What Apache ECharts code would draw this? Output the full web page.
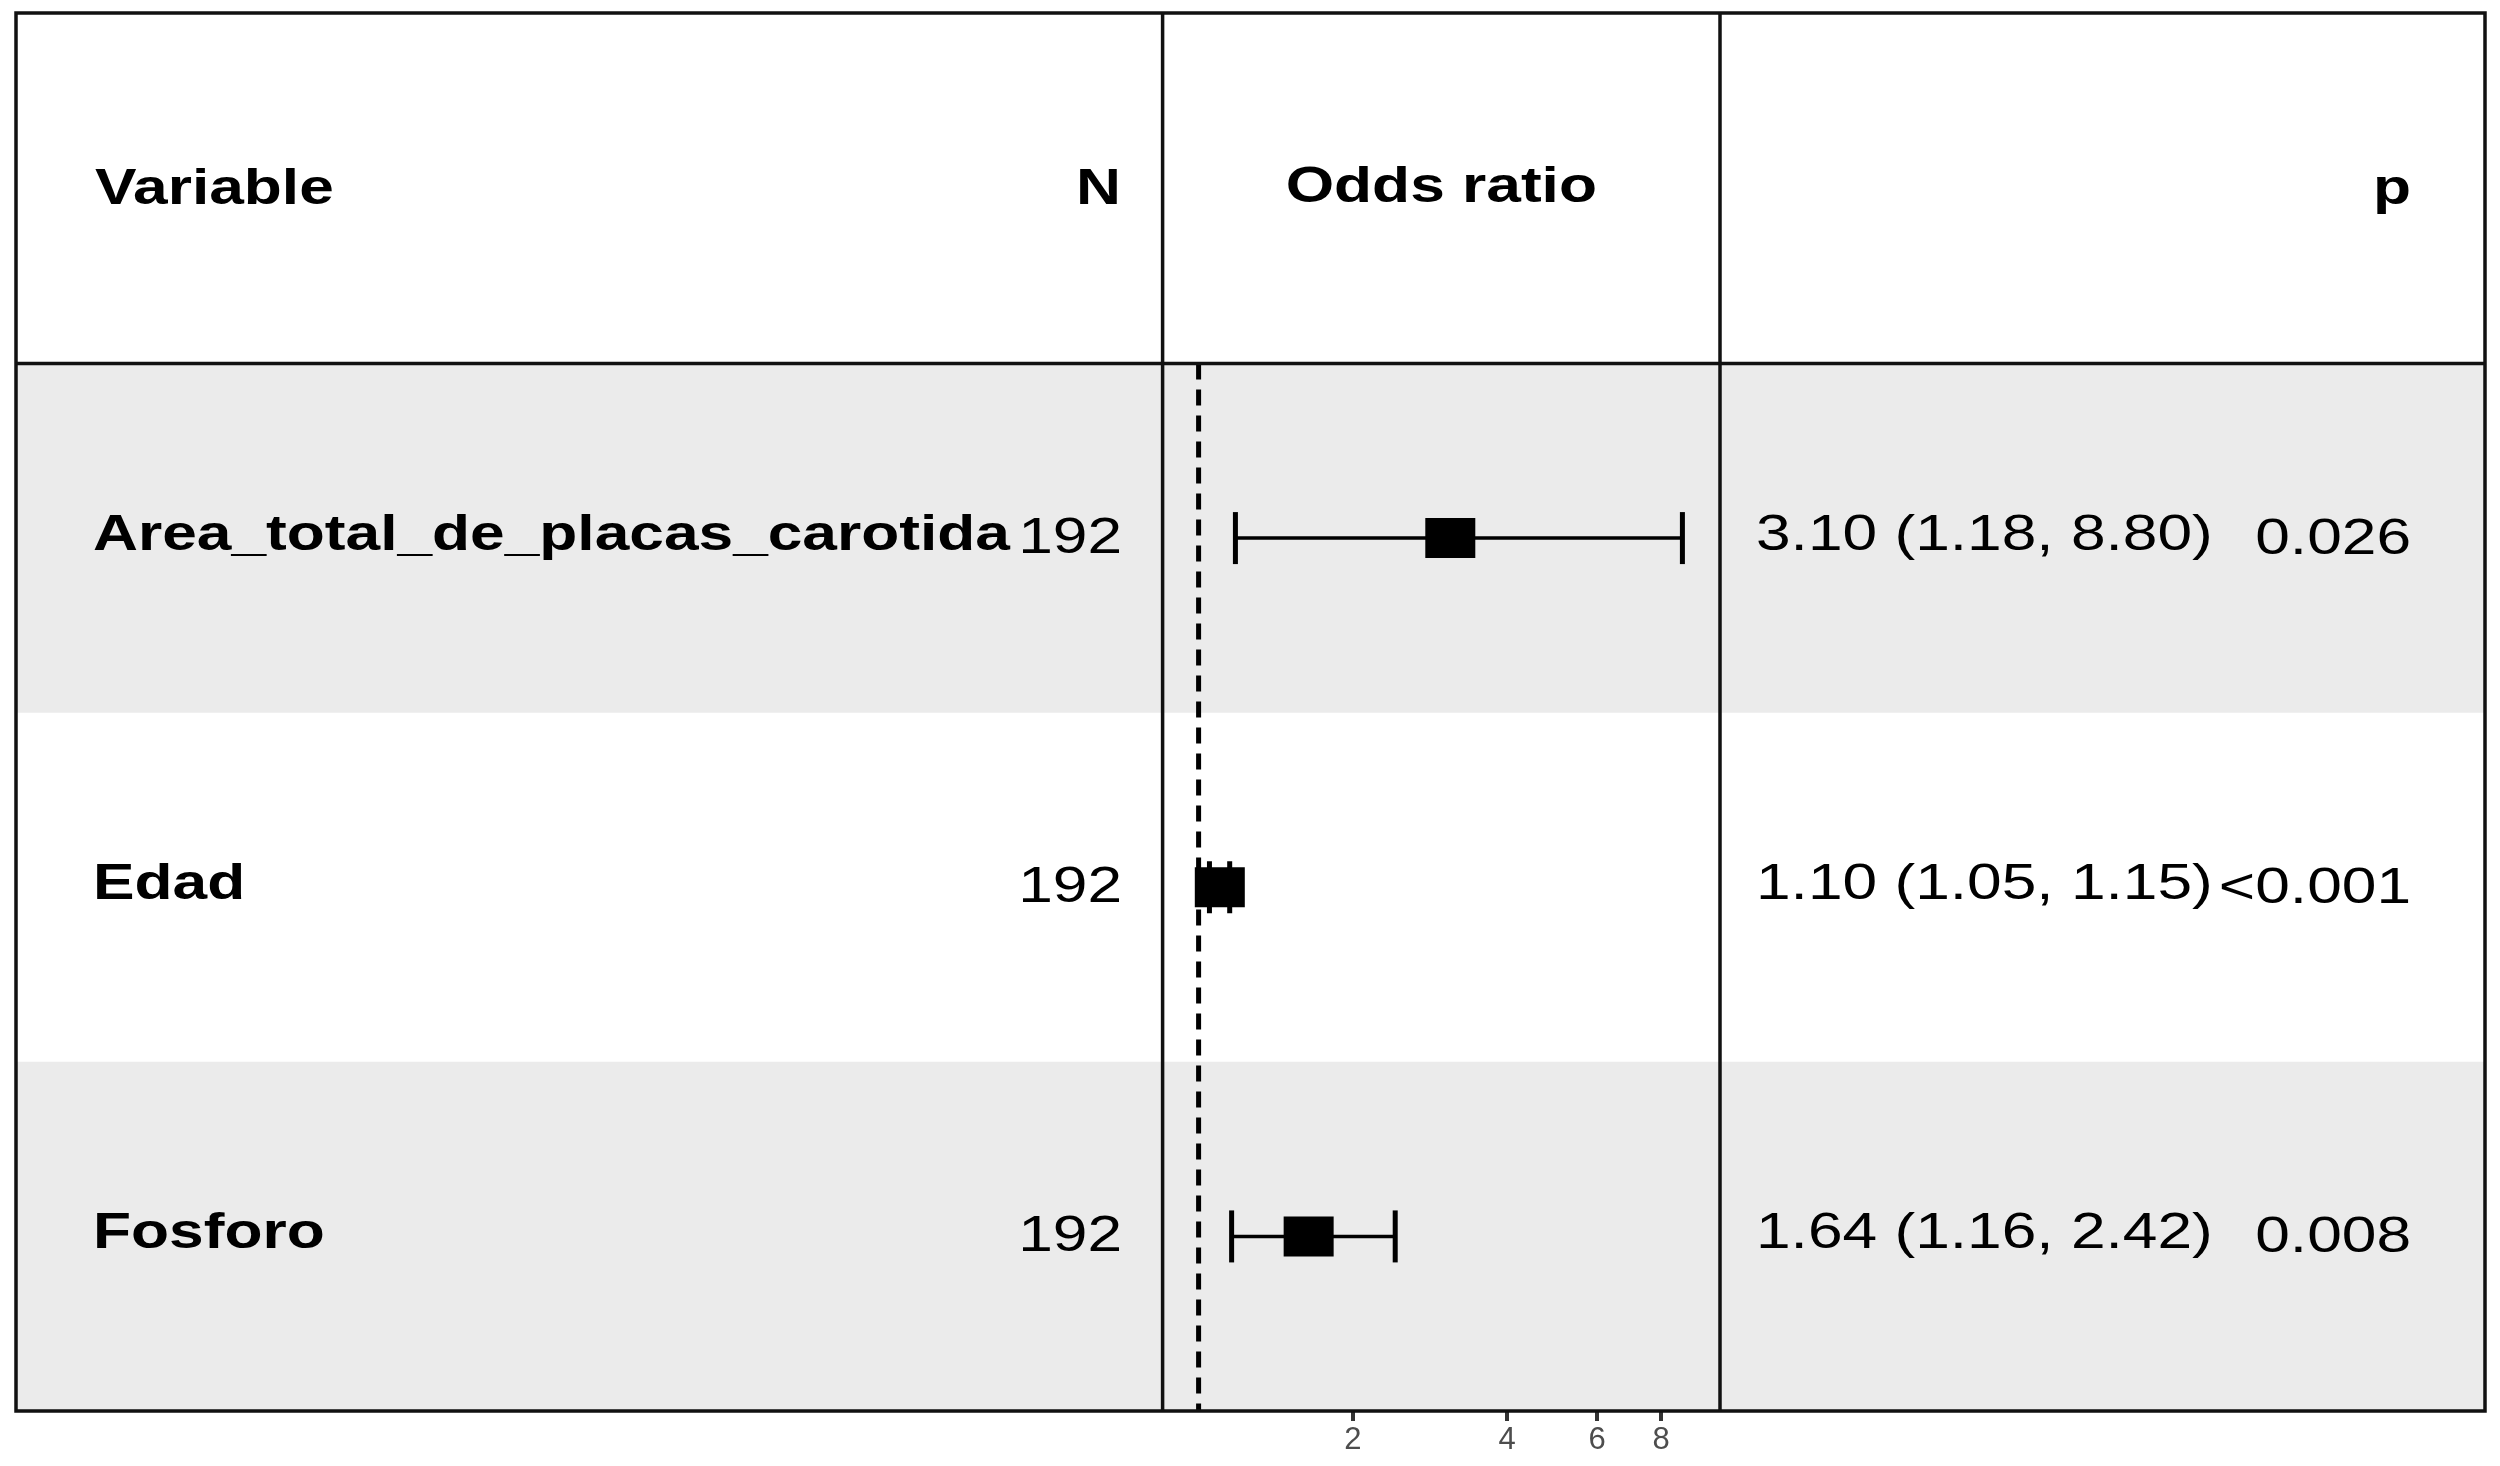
<!DOCTYPE html>
<html>
<head>
<meta charset="utf-8">
<script src="https://cdn.jsdelivr.net/npm/echarts@6/dist/echarts.min.js"></script>
<style>html,body{margin:0;padding:0;background:#fff}#c{width:2500px;height:1466px}</style>
</head>
<body>
<div id="c"></div>
<script>
// ---- data ----
const variables = ['Area_total_de_placas_carotida', 'Edad', 'Fosforo'];
const nValues = [192, 192, 192];
const oddsRatio = [3.10, 1.10, 1.64];
const ciLower = [1.18, 1.05, 1.16];
const ciUpper = [8.80, 1.15, 2.42];
const pValues = ['0.026', '<0.001', '0.008'];
const xTicks = [2, 4, 6, 8];
const headers = ['Variable', 'N', 'Odds ratio', 'p'];
const refValue = 1;
const xMin = 0.8506, xMax = 10.42;

// ---- layout ----
const FONT = '"Liberation Sans", Arial, Helvetica, sans-serif';
const SX = 1.245;
const L = 16, R = 2485, T = 13, B = 1411, HB = 363.5, PL = 1162.6, PR = 1720;
const LINE = '#111111';
const LW = 3.5;

function orText(i) {
  return oddsRatio[i].toFixed(2) + ' (' + ciLower[i].toFixed(2) + ', ' + ciUpper[i].toFixed(2) + ')';
}

const chart = echarts.init(document.getElementById('c'), null, {renderer: 'canvas'});

function txt(text, x, y, align, bold, z) {
  return {
    type: 'text', x: x, y: y, scaleX: SX, z: z || 0, silent: true,
    style: {text: text, x: 0, y: 0, align: align, verticalAlign: 'middle', fill: '#000',
            fontSize: 50, fontWeight: bold ? 'bold' : 'normal', fontFamily: FONT}
  };
}

const option = {
  backgroundColor: '#ffffff',
  animation: false,
  grid: {left: PL, right: 2500 - PR, top: HB, bottom: 1466 - B, containLabel: false},
  xAxis: {
    type: 'log', logBase: 10, min: xMin, max: xMax,
    axisLine: {show: false},
    splitLine: {show: false},
    axisTick: {show: true, customValues: xTicks, length: 10, lineStyle: {color: '#333333', width: 4}},
    axisLabel: {show: true, customValues: xTicks, margin: 14, fontSize: 31, lineHeight: 31,
                color: '#4d4d4d', fontFamily: FONT, formatter: function (v) { return String(v); }}
  },
  yAxis: {type: 'category', data: variables, inverse: true, show: false},
  graphic: [
    {type: 'rect', z: 10, silent: true, shape: {x: L, y: T, width: R - L, height: B - T},
     style: {fill: 'none', stroke: LINE, lineWidth: LW}},
    {type: 'line', z: 10, silent: true, shape: {x1: L, y1: HB, x2: R, y2: HB}, style: {stroke: LINE, lineWidth: LW}},
    {type: 'line', z: 10, silent: true, shape: {x1: PL, y1: T, x2: PL, y2: B}, style: {stroke: LINE, lineWidth: LW}},
    {type: 'line', z: 10, silent: true, shape: {x1: PR, y1: T, x2: PR, y2: B}, style: {stroke: LINE, lineWidth: LW}},
    txt(headers[0], 95, 190, 'left', true, 10),
    txt(headers[1], 1121, 190, 'right', true, 10),
    txt(headers[2], (PL + PR) / 2, 188, 'center', true, 10),
    txt(headers[3], 2411, 190, 'right', true, 10)
  ],
  series: [
    {
      // alternating row bands
      type: 'custom', z: 1, silent: true, clip: false,
      encode: {x: 0, y: 1},
      data: variables.map(function (v, i) { return [refValue, i]; }),
      renderItem: function (params, api) {
        const i = api.value(1);
        if (i % 2 === 1) return null;
        const c = api.coord([refValue, i]);
        const h = api.size([0, 1])[1];
        return {type: 'rect', shape: {x: L, y: c[1] - h / 2, width: R - L, height: h},
                style: {fill: '#ebebeb'}};
      }
    },
    {
      // reference line at OR = 1
      type: 'custom', z: 3, silent: true, clip: false,
      encode: {x: 0, y: 1},
      data: [[refValue, 0]],
      renderItem: function (params, api) {
        const x = api.coord([api.value(0), 0])[0];
        const cs = params.coordSys;
        return {type: 'line', shape: {x1: x, y1: cs.y, x2: x, y2: cs.y + cs.height},
                style: {stroke: '#000', lineWidth: 5, lineDash: [16, 10]}};
      }
    },
    {
      // confidence intervals and point estimates
      type: 'custom', z: 4, silent: true, clip: false,
      encode: {x: [0, 1, 2], y: 3},
      data: variables.map(function (v, i) { return [ciLower[i], ciUpper[i], oddsRatio[i], i]; }),
      renderItem: function (params, api) {
        const y = api.coord([refValue, api.value(3)])[1];
        const xl = api.coord([api.value(0), 0])[0];
        const xh = api.coord([api.value(1), 0])[0];
        const xm = api.coord([api.value(2), 0])[0];
        const st = {stroke: '#000', lineWidth: 3.5};
        const cap = {stroke: '#000', lineWidth: 5};
        return {type: 'group', children: [
          {type: 'line', shape: {x1: xl, y1: y, x2: xh, y2: y}, style: st},
          {type: 'line', shape: {x1: xl, y1: y - 26, x2: xl, y2: y + 26}, style: cap},
          {type: 'line', shape: {x1: xh, y1: y - 26, x2: xh, y2: y + 26}, style: cap},
          {type: 'rect', shape: {x: xm - 25, y: y - 20, width: 50, height: 40}, style: {fill: '#000'}}
        ]};
      }
    },
    {
      // table text
      type: 'custom', z: 5, silent: true, clip: false,
      encode: {x: 0, y: 1},
      data: variables.map(function (v, i) { return [refValue, i]; }),
      renderItem: function (params, api) {
        const i = params.dataIndex;
        const yc = api.coord([refValue, i])[1];
        return {type: 'group', children: [
          txt(variables[i], 93, yc - 2, 'left', true),
          txt(String(nValues[i]), 1122, yc + 1, 'right', false),
          txt(orText(i), 1756, yc - 2, 'left', false),
          txt(pValues[i], 2411, yc + 2, 'right', false)
        ]};
      }
    }
  ]
};
chart.setOption(option);
</script>
</body>
</html>
